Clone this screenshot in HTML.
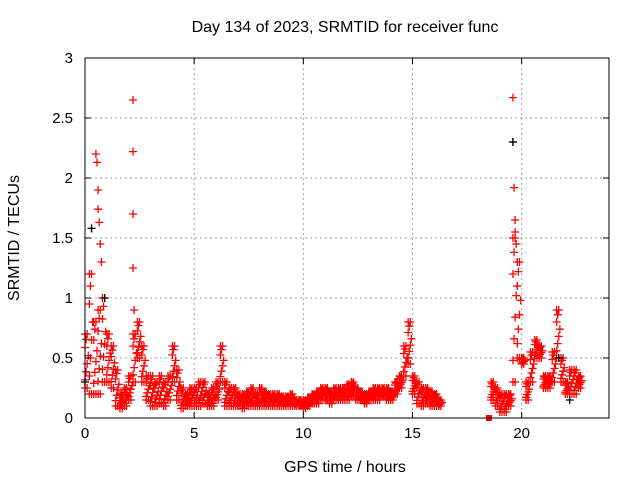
<!DOCTYPE html>
<html><head><meta charset="utf-8"><style>
body{margin:0;background:#fff;}
svg{display:block;font-family:"Liberation Sans",sans-serif;}
</style></head><body>
<svg id="chart" width="640" height="480">
<text x="345" y="32" text-anchor="middle" font-size="16">Day 134 of 2023, SRMTID for receiver func</text>
<text x="345" y="472" text-anchor="middle" font-size="16">GPS time / hours</text>
<text transform="translate(19,238) rotate(-90)" text-anchor="middle" font-size="16">SRMTID / TECUs</text>
<g id="grid"></g><g id="marks"></g><g id="axes"></g>
</svg>
<script>
const xTicks=[0,5,10,15,20];
const yTicks=[0,0.5,1,1.5,2,2.5,3];
const yTickLabels=["0","0.5","1","1.5","2","2.5","3"];
const t1=[0,0.2,0.4,0.6,0.8,1.0,1.2,1.4,1.6,1.8,2.0,2.2,2.4,2.6,2.8,3.0,3.2,3.4,3.6,3.8,4.0,4.2,4.4,4.6,4.8,5.0,5.2,5.4,5.6,5.8,6.0,6.2,6.4,6.6,6.8,7.0,7.2,7.4,7.6,7.8,8.0,8.2,8.4,8.6,8.8,9.0,9.2,9.4,9.6,9.8,10.0,10.2,10.4,10.6,10.8,11.0,11.2,11.4,11.6,11.8,12.0,12.2,12.4,12.6,12.8,13.0,13.2,13.4,13.6,13.8,14.0,14.2,14.4,14.6,14.8,15.0,15.2,15.4,15.6,15.8,16.0,16.2,18.6,18.8,19.0,19.2,19.4,19.6,19.8,20.0,20.2,20.4,20.6,20.8,21.0,21.2,21.4,21.6,21.8,22.0,22.2,22.4,22.6];
const lo=[0.25,0.2,0.2,0.2,0.3,0.3,0.25,0.1,0.08,0.1,0.15,0.3,0.5,0.3,0.15,0.1,0.1,0.12,0.1,0.15,0.3,0.15,0.08,0.1,0.1,0.1,0.1,0.12,0.1,0.1,0.15,0.3,0.1,0.1,0.1,0.1,0.08,0.1,0.1,0.1,0.1,0.1,0.1,0.1,0.1,0.1,0.1,0.1,0.1,0.1,0.08,0.1,0.12,0.12,0.15,0.15,0.12,0.15,0.15,0.15,0.15,0.18,0.15,0.15,0.12,0.15,0.15,0.15,0.18,0.15,0.15,0.2,0.25,0.35,0.45,0.2,0.12,0.1,0.12,0.1,0.1,0.1,0.15,0.1,0.05,0.05,0.1,0.3,0.5,0.45,0.15,0.3,0.5,0.5,0.25,0.25,0.3,0.5,0.3,0.2,0.2,0.2,0.25];
const hi=[0.7,1.2,0.8,0.9,1.0,0.7,0.6,0.4,0.2,0.25,0.35,0.7,0.8,0.6,0.35,0.35,0.3,0.35,0.3,0.35,0.6,0.4,0.25,0.2,0.25,0.25,0.3,0.3,0.2,0.25,0.3,0.6,0.3,0.25,0.25,0.2,0.2,0.22,0.25,0.2,0.25,0.22,0.2,0.2,0.2,0.18,0.18,0.2,0.15,0.15,0.15,0.17,0.2,0.22,0.25,0.25,0.22,0.25,0.25,0.25,0.28,0.3,0.25,0.22,0.2,0.22,0.25,0.25,0.25,0.25,0.22,0.3,0.35,0.6,0.8,0.35,0.3,0.25,0.25,0.22,0.2,0.15,0.3,0.25,0.2,0.2,0.2,1.5,1.3,0.5,0.3,0.55,0.65,0.6,0.35,0.35,0.55,0.9,0.5,0.3,0.4,0.4,0.35];
const spikeT=[0.3,0.5,0.55,0.6,0.6,0.65,0.7,0.75,2.2,2.2,2.2,2.2,2.25,19.6,19.6,19.65,19.7,19.7,19.75,19.8];
const spikeV=[1.58,2.2,2.13,1.9,1.74,1.63,1.45,1.3,2.65,2.22,1.7,1.25,0.9,2.67,2.3,1.92,1.65,1.55,1.45,1.1];
const blackT=[0.0,0.3,0.9,19.6,21.7,22.2];
const blackV=[0.3,1.58,1.0,2.3,0.5,0.15];
const squareT=[18.5];const squareV=[0];
const fracs=[0.15,0.3,0.45,0.6,0.75,0.9];
const X0=85,X1=609,Y0=418,Y1=58,XMAX=24,YMAX=3;
const sx=v=>X0+v/XMAX*(X1-X0), sy=v=>Y0-v/YMAX*(Y0-Y1);
const NS="http://www.w3.org/2000/svg";
function mk(tag,attrs,parent){const e=document.createElementNS(NS,tag);for(const k in attrs)e.setAttribute(k,attrs[k]);parent.appendChild(e);return e;}
const grid=document.getElementById('grid'),marks=document.getElementById('marks'),axes=document.getElementById('axes');
xTicks.forEach(v=>{const x=sx(v);
 if(v>0){const g=mk('line',{x1:x,x2:x,y1:Y1,y2:Y0,stroke:'#a0a0a0','stroke-dasharray':'2,3'},grid);
 
 }
 mk('line',{x1:x,x2:x,y1:Y0,y2:Y0-6,stroke:'#000'},axes);
 mk('line',{x1:x,x2:x,y1:Y1,y2:Y1+6,stroke:'#000'},axes);
 const t=mk('text',{x:x,y:Y0+20,'text-anchor':'middle','font-size':'15'},axes);t.textContent=v;
 
 
});
yTicks.forEach((v,i)=>{const y=sy(v);
 if(v>0&&v<YMAX){const g=mk('line',{x1:X0,x2:X1,y1:y,y2:y,stroke:'#a0a0a0','stroke-dasharray':'2,3'},grid);
 
 }
 mk('line',{x1:X0,x2:X0+6,y1:y,y2:y,stroke:'#000'},axes);
 mk('line',{x1:X1,x2:X1-6,y1:y,y2:y,stroke:'#000'},axes);
 const t=mk('text',{x:X0-12,y:y+5,'text-anchor':'end','font-size':'15'},axes);t.textContent=yTickLabels[i];
 
 
});
const fr=mk('rect',{x:X0,y:Y1,width:X1-X0,height:Y0-Y1,fill:'none',stroke:'#000'},axes);


function plus(t,v,col,name){const x=sx(t),y=sy(v);
 const p=mk('path',{d:`M${x-4},${y}h8M${x},${y-4}v8`,stroke:col,'stroke-width':1.3,fill:'none'},marks);
 
 }
t1.forEach((t,i)=>{
 const a=lo[i],b=hi[i];
 plus(t,a,'#ff0000','point-low');
 plus(t+0.1,a,'#ff0000','point-low');
 plus(t,b,'#ff0000','point-high');
 plus(t+0.1,b,'#ff0000','point-high');
 fracs.forEach((f,j)=>plus(t+0.05*(j%4),a+(b-a)*f,'#ff0000','point-mid'));
});
spikeT.forEach((t,i)=>plus(t,spikeV[i],'#ff0000','spike-point'));
blackT.forEach((t,i)=>plus(t,blackV[i],'#000000','black-point'));
squareT.forEach((t,i)=>{const r=mk('rect',{x:sx(t)-3,y:sy(squareV[i])-3,width:6,height:6,fill:'#ff0000'},marks);
 
 });
</script>
</body></html>
